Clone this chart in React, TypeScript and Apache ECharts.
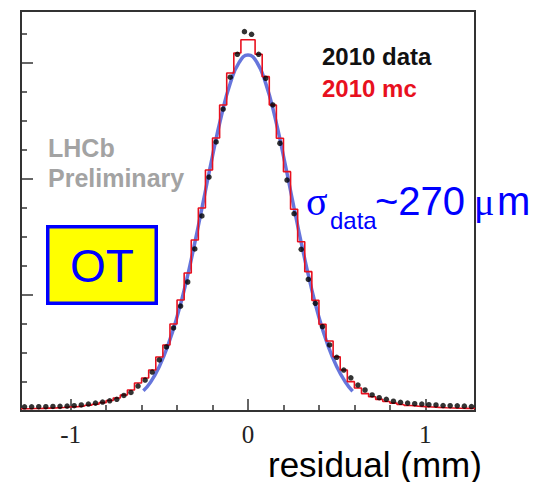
import React, { useEffect, useRef } from "react";
import * as echarts from "echarts";

// ---- data ----
const binWidth = 0.04;
const binCenters = [
  -1.26, -1.22, -1.18, -1.14, -1.1, -1.06, -1.02, -0.98, -0.94, -0.9, -0.86, -0.82, -0.78, -0.74, -0.7, -0.66,
  -0.62, -0.58, -0.54, -0.5, -0.46, -0.42, -0.38, -0.34, -0.3, -0.26, -0.22, -0.18, -0.14, -0.1, -0.06, -0.02,
  0.02, 0.06, 0.1, 0.14, 0.18, 0.22, 0.26, 0.3, 0.34, 0.38, 0.42, 0.46, 0.5, 0.54, 0.58, 0.62,
  0.66, 0.7, 0.74, 0.78, 0.82, 0.86, 0.9, 0.94, 0.98, 1.02, 1.06, 1.1, 1.14, 1.18, 1.22, 1.26,
];
// 2010 mc histogram (red)
const mcValues = [
  20, 22, 23, 25, 27, 30, 34, 38, 43, 50, 58, 72, 90, 112, 138, 181,
  241, 284, 353, 466, 569, 750, 957, 1190, 1474, 1750, 2078, 2353, 2638, 2914, 3086, 3200,
  3200, 3075, 2882, 2638, 2351, 2063, 1739, 1459, 1201, 954, 747, 603, 468, 353, 253, 198,
  150, 123, 100, 82, 68, 56, 48, 42, 38, 35, 31, 28, 26, 24, 23, 22,
];
// 2010 data points (black)
const dataValues = [
  36, 36, 37, 37, 39, 40, 42, 46, 52, 60, 68, 77, 88, 101, 134, 160,
  215, 267, 336, 440, 552, 716, 905, 1112, 1397, 1681, 2017, 2319, 2603, 2877, 3075, 3270,
  3247, 3075, 2868, 2638, 2308, 1991, 1701, 1394, 1135, 928, 727, 569, 463, 353, 286, 224,
  181, 138, 115, 101, 84, 75, 68, 63, 60, 54, 52, 47, 46, 45, 42, 38,
];
// Gaussian fit curve (blue), read at these residuals
const fitX = [
  -0.59, -0.55, -0.5, -0.45, -0.4, -0.35, -0.3, -0.25, -0.2, -0.15, -0.1, -0.05, 0,
  0.05, 0.1, 0.15, 0.2, 0.25, 0.3, 0.35, 0.4, 0.45, 0.5, 0.55, 0.59,
];
const fitY = [
  175, 247, 384, 572, 812, 1105, 1450, 1822, 2200, 2545, 2825, 3005, 3069,
  3006, 2824, 2546, 2198, 1823, 1452, 1108, 809, 568, 383, 248, 170,
];
const xMin = -1.28;
const xMax = 1.28;
const yMax = 3448;
const xMinorTicks = [-0.8, -0.6, -0.4, -0.2, 0.2, 0.4, 0.6, 0.8];
const xMajorTicks = [-1, 0, 1];
const xTickLabels = [-1, 0, 1];
const yMinorTicks = [250, 500, 750, 1250, 1500, 1750, 2250, 2500, 2750, 3250];
const yMajorTicks = [1000, 2000, 3000];

const tickStyle = { color: "#333333", width: 1.5 };

export default function App() {
  const ref = useRef<HTMLDivElement>(null);

  useEffect(() => {
    if (!ref.current) return;
    const chart = echarts.init(ref.current, undefined, { renderer: "svg" });

    const edges = binCenters.map((c) => c - binWidth / 2);
    edges.push(binCenters[binCenters.length - 1] + binWidth / 2);
    const histPoints = mcValues.map((v, i) => [edges[i], v]);
    histPoints.push([edges[edges.length - 1], mcValues[mcValues.length - 1]]);

    const sans = '"Liberation Sans", Arial, sans-serif';
    const serif = '"Liberation Serif", "Times New Roman", serif';
    const hiddenLine = { show: false, onZero: false };

    chart.setOption({
      animation: false,
      backgroundColor: "#ffffff",
      grid: {
        left: 21,
        right: 58,
        top: 11,
        bottom: 71,
        show: true,
        borderColor: "#333333",
        borderWidth: 2,
        backgroundColor: "transparent",
        containLabel: false,
        outerBoundsMode: "none",
      },
      xAxis: [
        {
          type: "value",
          min: xMin,
          max: xMax,
          position: "bottom",
          axisLine: hiddenLine,
          splitLine: { show: false },
          axisTick: { show: true, inside: true, length: 6, customValues: xMinorTicks, lineStyle: tickStyle },
          axisLabel: {
            show: true,
            customValues: xTickLabels,
            margin: 11,
            fontFamily: serif,
            fontSize: 25,
            color: "#222222",
          },
        },
        {
          type: "value",
          min: xMin,
          max: xMax,
          position: "top",
          offset: -400,
          axisLine: hiddenLine,
          splitLine: { show: false },
          axisTick: { show: true, inside: false, length: 12, customValues: xMajorTicks, lineStyle: tickStyle },
          axisLabel: { show: false },
        },
      ],
      yAxis: [
        {
          type: "value",
          min: 0,
          max: yMax,
          position: "left",
          axisLine: hiddenLine,
          splitLine: { show: false },
          axisTick: { show: true, inside: true, length: 6, customValues: yMinorTicks, lineStyle: tickStyle },
          axisLabel: { show: false },
        },
        {
          type: "value",
          min: 0,
          max: yMax,
          position: "right",
          offset: -454,
          axisLine: hiddenLine,
          splitLine: { show: false },
          axisTick: { show: true, inside: false, length: 12, customValues: yMajorTicks, lineStyle: tickStyle },
          axisLabel: { show: false },
        },
      ],
      series: [
        {
          name: "fit",
          type: "line",
          xAxisIndex: 0,
          yAxisIndex: 0,
          data: fitX.map((x, i) => [x, fitY[i]]),
          smooth: true,
          showSymbol: false,
          lineStyle: { color: "#5566d8", width: 3.5, opacity: 0.9 },
          z: 2,
        },
        {
          name: "2010 mc",
          type: "line",
          xAxisIndex: 0,
          yAxisIndex: 0,
          data: histPoints,
          step: "end",
          showSymbol: false,
          lineStyle: { color: "#e8101e", width: 1.6 },
          z: 3,
        },
        {
          name: "2010 data",
          type: "scatter",
          xAxisIndex: 0,
          yAxisIndex: 0,
          data: binCenters.map((c, i) => [c, dataValues[i]]),
          symbol: "circle",
          symbolSize: 5.5,
          itemStyle: { color: "#000000" },
          z: 4,
        },
      ],
      graphic: [
        {
          type: "text",
          x: 48,
          y: 148.3,
          z: 100,
          style: { text: "LHCb", font: `bold 25px ${sans}`, fill: "#a3a3a3", verticalAlign: "middle", align: "left" },
        },
        {
          type: "text",
          x: 48,
          y: 178,
          z: 100,
          style: { text: "Preliminary", font: `bold 25px ${sans}`, fill: "#a3a3a3", verticalAlign: "middle", align: "left" },
        },
        {
          type: "text",
          x: 322,
          y: 56.7,
          z: 100,
          style: { text: "2010 data", font: `bold 24px ${sans}`, fill: "#111111", verticalAlign: "middle", align: "left" },
        },
        {
          type: "text",
          x: 322,
          y: 88.4,
          z: 100,
          style: { text: "2010 mc", font: `bold 24px ${sans}`, fill: "#e8101e", verticalAlign: "middle", align: "left" },
        },
        {
          type: "text",
          x: 306,
          y: 201.5,
          z: 100,
          style: { text: "σ", font: `40px ${serif}`, fill: "#0000ff", verticalAlign: "middle", align: "left" },
        },
        {
          type: "text",
          x: 330,
          y: 220.7,
          z: 100,
          style: { text: "data", font: `24px ${sans}`, fill: "#0000ff", verticalAlign: "middle", align: "left" },
        },
        {
          type: "text",
          x: 375,
          y: 201.1,
          z: 100,
          style: { text: "~270", font: `40px ${sans}`, fill: "#0000ff", verticalAlign: "middle", align: "left" },
        },
        {
          type: "text",
          x: 474,
          y: 201.5,
          z: 100,
          style: { text: "μ", font: `38px ${serif}`, fill: "#0000ff", verticalAlign: "middle", align: "left" },
        },
        {
          type: "text",
          x: 497,
          y: 201.1,
          z: 100,
          style: { text: "m", font: `40px ${sans}`, fill: "#0000ff", verticalAlign: "middle", align: "left" },
        },
        {
          type: "rect",
          z: 100,
          shape: { x: 47.75, y: 226.75, width: 108.5, height: 76.5 },
          style: { fill: "#ffff00", stroke: "#0000ff", lineWidth: 3.5 },
        },
        {
          type: "text",
          x: 102,
          y: 266,
          z: 101,
          style: { text: "OT", font: `46px ${sans}`, fill: "#0000ff", verticalAlign: "middle", align: "center" },
        },
        {
          type: "text",
          x: 268,
          y: 464,
          z: 100,
          style: { text: "residual (mm)", font: `35px ${sans}`, fill: "#000000", verticalAlign: "middle", align: "left" },
        },
      ],
    });

    return () => {
      chart.dispose();
    };
  }, []);

  return (
    <div
      ref={ref}
      style={{ position: "absolute", left: 0, top: 0, width: 533, height: 482, background: "#ffffff" }}
    />
  );
}
